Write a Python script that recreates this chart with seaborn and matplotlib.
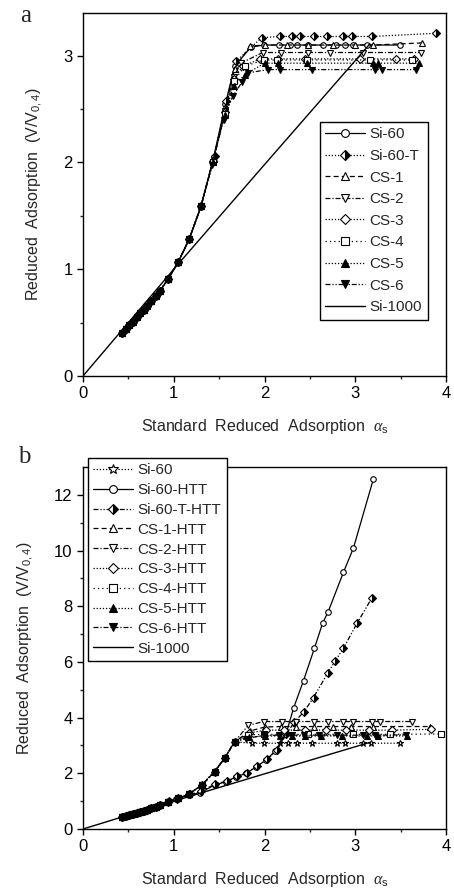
import numpy as np
import pandas as pd
import seaborn as sns
import matplotlib
matplotlib.use("Agg")
import matplotlib.pyplot as plt
from matplotlib import font_manager

sns.set_theme(style="ticks")
plt.rcParams['font.family'] = ['Liberation Sans', 'DejaVu Sans']
plt.rcParams['font.sans-serif'] = ['Liberation Sans', 'DejaVu Sans']
plt.rcParams['mathtext.fontset'] = 'custom'
plt.rcParams['mathtext.rm'] = 'Liberation Sans'
plt.rcParams['mathtext.it'] = 'Liberation Serif:italic'

# ---------------- Panel a data ----------------
rise_a_x = [0.43, 0.47, 0.51, 0.55, 0.59, 0.63, 0.67, 0.71, 0.75, 0.80, 0.85, 0.94, 1.05, 1.17, 1.30]
rise_a_y = [0.40, 0.44, 0.48, 0.51, 0.55, 0.59, 0.62, 0.66, 0.70, 0.75, 0.80, 0.91, 1.07, 1.28, 1.59]

si60_x = [1.44, 1.57, 1.67, 1.85, 1.99, 2.16, 2.28, 2.36, 2.48, 2.65, 2.79, 2.89, 2.98, 3.13, 3.49]
si60_y = [2.05, 2.55, 2.90, 3.08, 3.10, 3.10, 3.10, 3.10, 3.10, 3.10, 3.10, 3.10, 3.10, 3.10, 3.10]
si60t_x = [1.45, 1.58, 1.69, 1.97, 2.17, 2.30, 2.39, 2.54, 2.69, 2.87, 2.96, 3.18, 3.89]
si60t_y = [2.06, 2.58, 2.95, 3.17, 3.18, 3.18, 3.18, 3.18, 3.18, 3.18, 3.18, 3.18, 3.21]
cs1_x = [1.44, 1.57, 1.67, 1.84, 2.00, 2.25, 2.48, 2.75, 3.00, 3.20, 3.74]
cs1_y = [2.03, 2.52, 2.88, 3.09, 3.10, 3.10, 3.10, 3.10, 3.10, 3.10, 3.12]
cs2_x = [1.43, 1.56, 1.66, 1.74, 1.98, 2.18, 2.48, 2.72, 3.09, 3.72]
cs2_y = [2.00, 2.48, 2.80, 2.93, 3.03, 3.03, 3.03, 3.03, 3.03, 3.03]
cs3_x = [1.43, 1.56, 1.66, 1.76, 1.95, 2.15, 2.45, 3.05, 3.45, 3.65]
cs3_y = [2.01, 2.47, 2.78, 2.90, 2.97, 2.97, 2.97, 2.97, 2.97, 2.97]
cs4_x = [1.43, 1.56, 1.66, 1.78, 1.99, 2.14, 2.47, 3.16, 3.62]
cs4_y = [2.00, 2.45, 2.76, 2.90, 2.96, 2.96, 2.96, 2.96, 2.96]
cs5_x = [1.43, 1.56, 1.66, 1.78, 2.00, 2.15, 2.47, 3.20, 3.25, 3.70]
cs5_y = [2.00, 2.44, 2.72, 2.82, 2.93, 2.93, 2.93, 2.93, 2.93, 2.93]
cs6_x = [1.42, 1.55, 1.65, 1.75, 1.82, 2.04, 2.17, 2.52, 3.22, 3.29, 3.67]
cs6_y = [1.98, 2.40, 2.62, 2.75, 2.84, 2.87, 2.87, 2.87, 2.87, 2.87, 2.87]

si1000_x = [0.0, 1.0, 2.0, 3.16]
si1000_y = [0.0, 1.0, 1.98, 3.11]

labels_a = ["Si-60", "Si-60-T", "CS-1", "CS-2", "CS-3", "CS-4", "CS-5", "CS-6"]

# ---------------- Panel b data ----------------
low_b_x = [0.43, 0.47, 0.51, 0.55, 0.59, 0.63, 0.67, 0.71, 0.75, 0.80, 0.85]
low_b_y = [0.42, 0.46, 0.50, 0.54, 0.58, 0.62, 0.66, 0.70, 0.74, 0.79, 0.86]
upper_b_x = [0.94, 1.05, 1.17, 1.31, 1.45, 1.56, 1.67]
upper_b_y = [0.97, 1.10, 1.26, 1.58, 2.06, 2.54, 3.13]

si60b_x = [1.86, 1.99, 2.17, 2.26, 2.36, 2.52, 2.80, 2.89, 3.08, 3.17, 3.49]
si60b_y = [3.08, 3.08, 3.08, 3.08, 3.08, 3.08, 3.08, 3.08, 3.08, 3.08, 3.08]
si60htt_x = [0.94, 1.03, 1.17, 1.29, 1.45, 1.58, 1.69, 1.80, 1.91, 2.02, 2.12, 2.24, 2.32, 2.43, 2.55, 2.64, 2.70, 2.87, 2.98, 3.20]
si60htt_y = [0.98, 1.08, 1.22, 1.30, 1.58, 1.70, 1.88, 2.00, 2.24, 2.48, 2.81, 3.44, 4.34, 5.33, 6.49, 7.39, 7.79, 9.22, 10.09, 12.57]
si60thtt_x = [0.95, 1.04, 1.18, 1.30, 1.46, 1.59, 1.70, 1.81, 1.92, 2.03, 2.14, 2.24, 2.33, 2.43, 2.54, 2.70, 2.78, 2.87, 3.02, 3.18]
si60thtt_y = [0.99, 1.09, 1.24, 1.35, 1.62, 1.72, 1.90, 2.02, 2.26, 2.50, 2.85, 3.40, 3.85, 4.19, 4.72, 5.62, 6.04, 6.49, 7.39, 8.28]
cs1h_x = [1.84, 2.00, 2.18, 2.35, 2.55, 2.75, 2.95, 3.20, 3.82]
cs1h_y = [3.52, 3.66, 3.68, 3.68, 3.68, 3.68, 3.68, 3.68, 3.68]
cs2h_x = [1.82, 1.99, 2.19, 2.35, 2.54, 2.70, 2.87, 2.98, 3.18, 3.27, 3.62]
cs2h_y = [3.72, 3.86, 3.86, 3.86, 3.86, 3.86, 3.86, 3.86, 3.86, 3.86, 3.86]
cs3h_x = [1.83, 2.02, 2.22, 2.45, 2.68, 2.90, 3.15, 3.40, 3.84]
cs3h_y = [3.45, 3.55, 3.55, 3.55, 3.55, 3.55, 3.55, 3.55, 3.58]
cs4h_x = [1.82, 1.99, 2.48, 2.98, 3.38, 3.95]
cs4h_y = [3.38, 3.40, 3.40, 3.40, 3.40, 3.41]
cs5h_x = [1.83, 2.00, 2.17, 2.30, 2.45, 2.62, 2.85, 3.13, 3.25, 3.57]
cs5h_y = [3.30, 3.34, 3.34, 3.34, 3.34, 3.34, 3.34, 3.34, 3.34, 3.34]
cs6h_x = [1.80, 1.99, 2.16, 2.30, 2.44, 2.60, 2.80, 3.08, 3.22, 3.56]
cs6h_y = [3.25, 3.36, 3.37, 3.37, 3.37, 3.37, 3.37, 3.37, 3.37, 3.38]

labels_b = ["Si-60", "Si-60-HTT", "Si-60-T-HTT", "CS-1-HTT", "CS-2-HTT", "CS-3-HTT",
            "CS-4-HTT", "CS-5-HTT", "CS-6-HTT"]

# ---------------- styles ----------------
dot = (0, (1, 1.5))
dashdot = (0, (4, 1.5, 1, 1.5))
dashed = (0, (4, 2.5))
dashdotdot = (0, (4, 1.5, 1, 1.5, 1, 1.5))

styles_a = [
    dict(marker='o', ls='-', mfc='white'),
    dict(marker='D', ls=dot, mfc='black', fillstyle='right', mfcalt='white'),
    dict(marker='^', ls=dashed, mfc='white'),
    dict(marker='v', ls=dashdot, mfc='white'),
    dict(marker='D', ls=dot, mfc='white'),
    dict(marker='s', ls=(0, (1, 2.5)), mfc='white'),
    dict(marker='^', ls=dot, mfc='black'),
    dict(marker='v', ls=dashdotdot, mfc='black'),
]
styles_b = [
    dict(marker='*', ls=dot, mfc='white'),
    dict(marker='o', ls='-', mfc='white'),
    dict(marker='D', ls=dashdotdot, mfc='black', fillstyle='right', mfcalt='white'),
    dict(marker='^', ls=dashed, mfc='white'),
    dict(marker='v', ls=dashdot, mfc='white'),
    dict(marker='D', ls=dot, mfc='white'),
    dict(marker='s', ls=(0, (1, 2.5)), mfc='white'),
    dict(marker='^', ls=dot, mfc='black'),
    dict(marker='v', ls=dashdot, mfc='black'),
]


def draw(ax, x, y, st, label):
    df = pd.DataFrame({"x": x, "y": y})
    kws = dict(marker=st['marker'], linestyle=st['ls'], color='black',
               markerfacecolor=st['mfc'], markeredgecolor='black',
               markeredgewidth=0.8, markersize=4.0 if st['marker'] != '*' else 5.0,
               linewidth=0.9)
    if 'fillstyle' in st:
        kws['fillstyle'] = st['fillstyle']
        kws['markerfacecoloralt'] = st['mfcalt']
    sns.lineplot(data=df, x="x", y="y", ax=ax, estimator=None, sort=False,
                 label=label, **kws)


fig = plt.figure(figsize=(4.54, 8.93), dpi=100)
ax_a = fig.add_axes([83 / 454, 1 - 376 / 893, 363 / 454, 363 / 893])
ax_b = fig.add_axes([83 / 454, 1 - 829 / 893, 363 / 454, 362 / 893])

series_a = [(si60_x, si60_y), (si60t_x, si60t_y), (cs1_x, cs1_y), (cs2_x, cs2_y),
            (cs3_x, cs3_y), (cs4_x, cs4_y), (cs5_x, cs5_y), (cs6_x, cs6_y)]
for (xs, ys), st, lab in zip(series_a, styles_a, labels_a):
    draw(ax_a, rise_a_x + xs, rise_a_y + ys, st, lab)
sns.lineplot(x=si1000_x, y=si1000_y, ax=ax_a, color='black', linewidth=1.0,
             estimator=None, sort=False, label="Si-1000")

series_b = [(low_b_x + upper_b_x + si60b_x, low_b_y + upper_b_y + si60b_y),
            (low_b_x + si60htt_x, low_b_y + si60htt_y),
            (low_b_x + si60thtt_x, low_b_y + si60thtt_y),
            (low_b_x + upper_b_x + cs1h_x, low_b_y + upper_b_y + cs1h_y),
            (low_b_x + upper_b_x + cs2h_x, low_b_y + upper_b_y + cs2h_y),
            (low_b_x + upper_b_x + cs3h_x, low_b_y + upper_b_y + cs3h_y),
            (low_b_x + upper_b_x + cs4h_x, low_b_y + upper_b_y + cs4h_y),
            (low_b_x + upper_b_x + cs5h_x, low_b_y + upper_b_y + cs5h_y),
            (low_b_x + upper_b_x + cs6h_x, low_b_y + upper_b_y + cs6h_y)]
for (xs, ys), st, lab in zip(series_b, styles_b, labels_b):
    draw(ax_b, xs, ys, st, lab)
sns.lineplot(x=si1000_x, y=si1000_y, ax=ax_b, color='black', linewidth=1.0,
             estimator=None, sort=False, label="Si-1000")

SANS = ['Liberation Sans', 'DejaVu Sans']
for ax in (ax_a, ax_b):
    ax.set_xlim(0, 4)
    ax.set_xticks([0, 1, 2, 3, 4])
    ax.set_xticks([0.5, 1.5, 2.5, 3.5], minor=True)
    for sp in ax.spines.values():
        sp.set_visible(True)
        sp.set_color('black')
        sp.set_linewidth(1.0)
    ax.tick_params(which='major', direction='out', length=4, width=1.0,
                   labelsize=12, colors='black', top=False, right=False)
    ax.tick_params(which='minor', direction='out', length=2.5, width=1.0,
                   top=False, right=False)
    for t in ax.get_xticklabels() + ax.get_yticklabels():
        t.set_family(SANS)
    ax.set_xlabel(r"Standard  Reduced  Adsorption  $\alpha_{\rm s}$", fontsize=11.5,
                  labelpad=11, family=SANS)
    ax.set_ylabel(r"Reduced  Adsorption  (V/V$_{0,4}$)", fontsize=11.5, labelpad=14,
                  family=SANS)

ax_a.set_ylim(0, 3.4)
ax_a.set_yticks([0, 1, 2, 3])
ax_a.set_yticks([0.5, 1.5, 2.5], minor=True)
ax_b.set_ylim(0, 13)
ax_b.set_yticks([0, 2, 4, 6, 8, 10, 12])
ax_b.set_yticks([1, 3, 5, 7, 9, 11], minor=True)
for ax in (ax_a, ax_b):
    for t in ax.get_xticklabels() + ax.get_yticklabels():
        t.set_family(SANS)

leg_kw = dict(loc='upper left', frameon=True, fancybox=False,
              prop={'family': SANS, 'size': 11},
              handlelength=2.6, handletextpad=0.3, borderaxespad=0, borderpad=0.35,
              edgecolor='black', markerscale=1.4)
la = ax_a.legend(bbox_to_anchor=(0.653, 0.70), labelspacing=0.5, **leg_kw)
lb = ax_b.legend(bbox_to_anchor=(0.014, 1.025), labelspacing=0.38, **leg_kw)
for lg in (la, lb):
    lg.get_frame().set_linewidth(1.0)
    lg.set_zorder(5)
    lg.get_frame().set_alpha(1)

fig.text(20 / 454, 1 - 16 / 893, "a", fontsize=18, family='Liberation Serif', va='center')
fig.text(18 / 454, 1 - 457 / 893, "b", fontsize=18, family='Liberation Serif', va='center')

fig.savefig("out.png", dpi=100)
